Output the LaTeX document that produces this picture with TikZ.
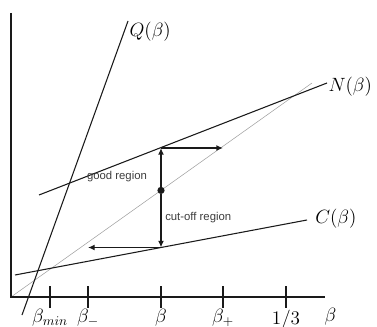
\documentclass[tikz,border=0pt]{standalone}
\usepackage{fontspec}
\setsansfont{Liberation Sans}
\usepackage{tikz}
\usetikzlibrary{arrows.meta}
\definecolor{plotblack}{HTML}{1A1A1A}
\definecolor{plotgray}{HTML}{A0A0A0}
\tikzset{
  axis/.style={draw=plotblack,line width=1pt},
  curve/.style={draw=plotblack,line width=0.8pt},
  guide/.style={draw=plotgray,line width=0.4pt},
  move/.style={draw=plotblack,line width=1.3pt,-{Latex[length=5pt,width=4.5pt]}},
  tickmark/.style={draw=plotblack,line width=0.8pt},
  curve label/.style={font=\Large,inner sep=1pt},
  region label/.style={font=\sffamily\fontsize{8.5}{10}\selectfont,
    text=plotblack!85,inner sep=0pt},
  state/.style={circle,fill=plotblack,inner sep=0pt,minimum size=5.4pt}
}
\begin{document}
\begin{tikzpicture}[x=0.75pt,y=-0.75pt]
  \useasboundingbox (0,0) rectangle (377,327);
  % diagonal guide
  \coordinate (O) at (11,297);
  \coordinate (g1) at (312,83);
  \draw[guide] (O)--(g1);
  % axes
  \coordinate (ytop) at (11,13);
  \coordinate (xend) at (325,297);
  \draw[axis] (ytop)--(O)--(xend);
  \node[curve label,anchor=north west] (blab) at (323,307) {$\beta$};
  \foreach \x/\name/\lab in {50/bmin/{\beta_{min}},88/bminus/{\beta_-},
      161/bcur/{\beta},223/bplus/{\beta_+},286/bthird/{1/3}} {
    \coordinate (\name-top) at (\x,286);
    \coordinate (\name-bot) at (\x,308);
    \draw[tickmark] (\name-top)--(\name-bot);
    \node[curve label,below] (\name) at (\name-bot) {$\lab$};
  }
  % the three lines
  \coordinate (q0) at (22,315);
  \coordinate (q1) at (128,21);
  \draw[curve] (q0)--(q1);
  \node[curve label,anchor=north west] (qlab) at (q1) {$Q(\beta)$};
  \coordinate (n0) at (39,195);
  \coordinate (n1) at (327,83);
  \draw[curve] (n0)--(n1);
  \node[curve label,anchor=west,yshift=-3pt] (nlab) at (n1) {$N(\beta)$};
  \coordinate (c0) at (15,275);
  \coordinate (c1) at (307,220);
  \draw[curve] (c0)--(c1);
  \node[curve label,anchor=west,xshift=5pt,yshift=1pt] (clab) at (c1) {$C(\beta)$};
  % moves from the current point
  \coordinate (up) at (161,148);
  \coordinate (down) at (161,247.5);
  \node[state] (s) at (161,190.4) {};
  \draw[move] (s)--(up);
  \draw[move] (up)--(bplus-top |- up);
  \draw[move] (s)--(down);
  \draw[move] (down)--(bminus-top |- down);
  \node[region label] (good) at (117,177) {good region};
  \node[region label,anchor=west] (cut) at (165,218) {cut-off region};
\end{tikzpicture}
\end{document}
